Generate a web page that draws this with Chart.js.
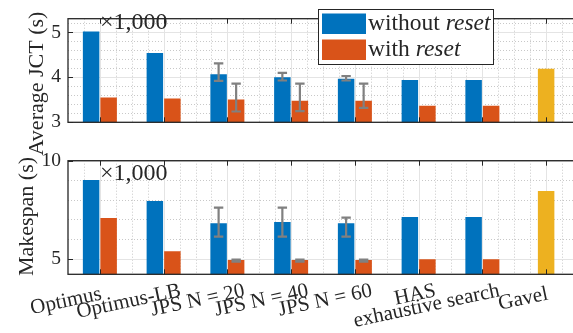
<!DOCTYPE html>
<html><head><meta charset="utf-8">
<script src="https://cdn.jsdelivr.net/npm/chart.js@4.4.1/dist/chart.umd.min.js"></script>
<style>
html,body{margin:0;padding:0;background:#fff;overflow:hidden;width:573px;height:333px;}
canvas{position:absolute;left:0;top:0;}
#fontprobe{position:absolute;left:-1000px;top:0;font-family:'Liberation Serif';font-size:20px;}
#fontprobe i{font-style:italic;}
</style></head><body>
<div id="fontprobe">Optimus <i>reset</i> ×1,000</div>
<canvas id="cBottom" width="578" height="340"></canvas>
<canvas id="cTop" width="578" height="340"></canvas>
<script>
// ---- data (values in thousands of seconds, as on the axes) ----
const categories = ['Optimus', 'Optimus-LB', 'JPS N = 20', 'JPS N = 40', 'JPS N = 60', 'HAS', 'exhaustive search', 'Gavel'];
const tickLabels = ['Optimus   ', 'Optimus-LB', 'JPS N = 20', 'JPS N = 40', 'JPS N = 60', 'HAS', 'exhaustive search', 'Gavel   '];
const seriesNames = ['without reset', 'with reset', 'Gavel'];

const jctWithout      = [5.02, 4.54, 4.07, 4.00, 3.97, 3.94, 3.94, null];
const jctWith         = [3.55, 3.53, 3.51, 3.48, 3.48, 3.37, 3.37, null];
const jctGavel        = [null, null, null, null, null, null, null, 4.19];
const jctWithoutLo    = [null, null, 3.92, 3.93, 3.93, null, null, null];
const jctWithoutHi    = [null, null, 4.31, 4.10, 4.03, null, null, null];
const jctWithLo       = [null, null, 3.24, 3.25, 3.32, null, null, null];
const jctWithHi       = [null, null, 3.86, 3.86, 3.86, null, null, null];

const mkWithout       = [9.02, 7.94, 6.81, 6.87, 6.81, 7.13, 7.13, null];
const mkWith          = [7.08, 5.38, 4.93, 4.93, 4.93, 4.97, 4.97, null];
const mkGavel         = [null, null, null, null, null, null, null, 8.45];
const mkWithoutLo     = [null, null, 6.12, 6.12, 6.12, null, null, null];
const mkWithoutHi     = [null, null, 7.60, 7.60, 7.09, null, null, null];
const mkWithLo        = [null, null, 4.85, 4.85, 4.85, null, null, null];
const mkWithHi        = [null, null, 4.95, 4.95, 4.95, null, null, null];

const jctTicks = [3, 4, 5];
const mkTicks = [5, 10];

// ---- style ----
const FONT = "'Liberation Serif', 'DejaVu Serif', serif";
const AX = '#262626';
const BLUE = '#0072BD', ORANGE = '#D95319', YELLOW = '#EDB120', ERR = '#808080';

const matlabPlugin = {
  id: 'matlab',
  beforeDatasetsDraw(chart, args, o) {
    const {ctx, chartArea: a, scales: {x, y}} = chart;
    ctx.save();
    ctx.lineWidth = 1;
    ctx.strokeStyle = '#c8c8c8';
    ctx.setLineDash([1, 2]);
    ctx.beginPath();
    for (let v = o.yMinorStart; v <= y.max + 1e-9; v += o.yMinorStep) {
      if (o.yMajor.some(m => Math.abs(m - v) < 1e-6)) continue;
      const p = Math.round(y.getPixelForValue(v)) + 0.5;
      ctx.moveTo(a.left, p); ctx.lineTo(a.right, p);
    }
    const n = chart.data.labels.length;
    for (let k = -0.25; k < n - 0.5; k += 0.25) {
      if (Math.abs(k - Math.round(k)) < 1e-6) continue;
      const p = Math.round(x.getPixelForValue(k)) + 0.5;
      ctx.moveTo(p, a.top); ctx.lineTo(p, a.bottom);
    }
    ctx.stroke();
    ctx.setLineDash([]);
    ctx.strokeStyle = '#e4e4e4';
    ctx.beginPath();
    o.yMajor.forEach(v => {
      const p = Math.round(y.getPixelForValue(v)) + 0.5;
      ctx.moveTo(a.left, p); ctx.lineTo(a.right, p);
    });
    for (let k = 0; k < n; k++) {
      const p = Math.round(x.getPixelForValue(k)) + 0.5;
      ctx.moveTo(p, a.top); ctx.lineTo(p, a.bottom);
    }
    ctx.stroke();
    ctx.restore();
  },
  afterDatasetsDraw(chart, args, o) {
    const {ctx, chartArea: a, scales: {x, y}} = chart;
    ctx.save();
    ctx.strokeStyle = ERR;
    ctx.lineWidth = 2.2;
    o.errors.forEach(e => {
      const meta = chart.getDatasetMeta(e.ds);
      e.lo.forEach((lo, i) => {
        if (lo == null) return;
        const bx = meta.data[i].x;
        const yt = y.getPixelForValue(e.hi[i]);
        const yb = y.getPixelForValue(lo);
        ctx.beginPath();
        ctx.moveTo(bx, yt); ctx.lineTo(bx, yb);
        ctx.moveTo(bx - 4.7, yt); ctx.lineTo(bx + 4.7, yt);
        ctx.moveTo(bx - 4.7, yb); ctx.lineTo(bx + 4.7, yb);
        ctx.stroke();
      });
    });
    ctx.strokeStyle = AX;
    ctx.lineWidth = 1.3;
    ctx.strokeRect(a.left, a.top, a.right - a.left, a.bottom - a.top);
    ctx.lineWidth = 1;
    ctx.beginPath();
    const n = chart.data.labels.length;
    for (let k = 0; k < n; k++) {
      const p = Math.round(x.getPixelForValue(k)) + 0.5;
      ctx.moveTo(p, a.bottom); ctx.lineTo(p, a.bottom - 5);
      ctx.moveTo(p, a.top); ctx.lineTo(p, a.top + 5);
    }
    o.yMajor.forEach(v => {
      const p = Math.round(y.getPixelForValue(v)) + 0.5;
      ctx.moveTo(a.left, p); ctx.lineTo(a.left + 5, p);
      ctx.moveTo(a.right, p); ctx.lineTo(a.right - 5, p);
    });
    ctx.stroke();
    ctx.restore();
  },
  afterDraw(chart, args, o) {
    const ctx = chart.ctx;
    ctx.save();
    ctx.fillStyle = AX;
    ctx.textBaseline = 'alphabetic';
    ctx.save();
    ctx.translate(o.yTitle.x, o.yTitle.y);
    ctx.rotate(-Math.PI / 2);
    ctx.textAlign = 'center';
    ctx.font = '22px ' + FONT;
    ctx.fillText(o.yTitle.text, 0, 0);
    ctx.restore();
    ctx.textAlign = 'left';
    ctx.font = '24px ' + FONT;
    ctx.fillText('\u00d71,000', o.mult.x, o.mult.y);
    if (o.legend) {
      const L = o.legend;
      ctx.fillStyle = '#ffffff';
      ctx.fillRect(L.x, L.y, L.w, L.h);
      ctx.strokeStyle = AX;
      ctx.lineWidth = 1;
      ctx.strokeRect(L.x + 0.5, L.y + 0.5, L.w, L.h);
      [0, 1].forEach((d, r) => {
        const ds = chart.data.datasets[d];
        const sy = L.y + 4.5 + r * 26;
        ctx.fillStyle = ds.backgroundColor;
        ctx.fillRect(L.x + 4, sy, 44, 20.5);
        ctx.fillStyle = AX;
        const words = ds.label.split(' ');
        const last = words.pop();
        const first = words.join(' ') + ' ';
        const by = sy + 16;
        ctx.font = '23.5px ' + FONT;
        ctx.fillText(first, L.x + 50, by);
        const w = ctx.measureText(first).width;
        ctx.font = 'italic 23.5px ' + FONT;
        ctx.fillText(last, L.x + 50 + w, by);
      });
    }
    ctx.restore();
  }
};

function makeChart(id, vals, cfg) {
  return new Chart(document.getElementById(id), {
    type: 'bar',
    data: {
      labels: tickLabels,
      datasets: [
        {label: seriesNames[0], data: vals[0], backgroundColor: BLUE, categoryPercentage: 0.55, barPercentage: 0.94},
        {label: seriesNames[1], data: vals[1], backgroundColor: ORANGE, categoryPercentage: 0.55, barPercentage: 0.94},
        {label: seriesNames[2], data: vals[2], backgroundColor: YELLOW, grouped: false, maxBarThickness: 16.5}
      ]
    },
    plugins: [matlabPlugin],
    options: {
      responsive: false, animation: false, devicePixelRatio: 1,
      layout: {padding: {top: cfg.top, left: 0, right: 0, bottom: 0}, autoPadding: false},
      plugins: {
        legend: {display: false}, tooltip: {enabled: false},
        matlab: cfg.plugin
      },
      scales: {
        x: {
          type: 'category', offset: true,
          grid: {display: false, drawTicks: false}, border: {display: false},
          ticks: {display: cfg.showX, font: {family: FONT, size: 21}, color: AX,
                  minRotation: 12, maxRotation: 12, autoSkip: false, padding: 4, labelOffset: 17},
          afterFit: s => { s.height = 340 - cfg.bottom; }
        },
        y: {
          min: cfg.min, max: cfg.max,
          grid: {display: false, drawTicks: false}, border: {display: false},
          afterBuildTicks: s => { s.ticks = cfg.ticks.map(v => ({value: v})); },
          ticks: {font: {family: FONT, size: 19.5}, color: AX, padding: 7},
          afterFit: s => { s.width = 68; }
        }
      }
    }
  });
}

function build() {
  makeChart('cTop', [jctWithout, jctWith, jctGavel], {
    top: 9, bottom: 122.3, min: 3, max: 5.305, ticks: jctTicks, showX: false,
    plugin: {
      yMajor: jctTicks, yMinorStart: 3, yMinorStep: 0.2,
      errors: [{ds: 0, lo: jctWithoutLo, hi: jctWithoutHi}, {ds: 1, lo: jctWithLo, hi: jctWithHi}],
      yTitle: {text: 'Average JCT (s)', x: 43, y: 83.5},
      mult: {x: 100, y: 29},
      legend: {x: 318, y: 9, w: 175, h: 55}
    }
  });
  makeChart('cBottom', [mkWithout, mkWith, mkGavel], {
    top: 160.7, bottom: 274.3, min: 4.2, max: 10, ticks: mkTicks, showX: true,
    plugin: {
      yMajor: mkTicks, yMinorStart: 5, yMinorStep: 1,
      errors: [{ds: 0, lo: mkWithoutLo, hi: mkWithoutHi}, {ds: 1, lo: mkWithLo, hi: mkWithHi}],
      yTitle: {text: 'Makespan (s)', x: 33.3, y: 216.5},
      mult: {x: 100, y: 180},
      legend: null
    }
  });
}

const fontsReady = (document.fonts && document.fonts.load)
  ? Promise.all([
      document.fonts.load("22px 'Liberation Serif'"),
      document.fonts.load("italic 22px 'Liberation Serif'")
    ]).catch(() => {})
  : Promise.resolve();
fontsReady.then(build, build);
</script>
</body></html>
